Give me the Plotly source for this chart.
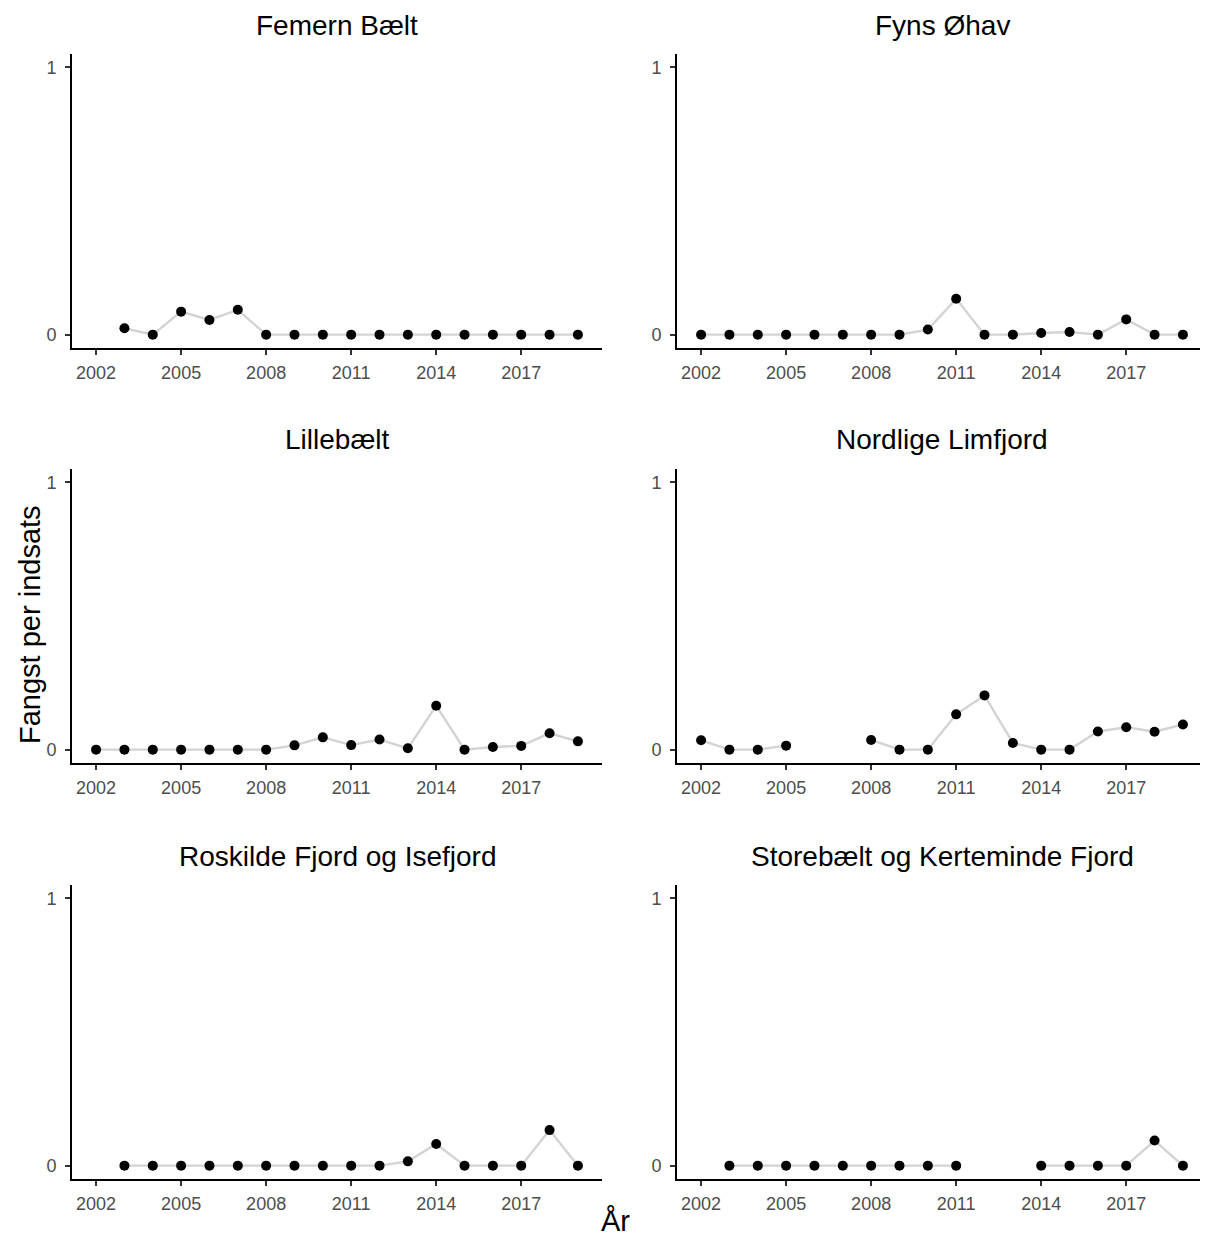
import plotly.graph_objects as go

years = list(range(2002, 2020))
panel_titles = ["Femern Bælt", "Fyns Øhav", "Lillebælt", "Nordlige Limfjord",
                "Roskilde Fjord og Isefjord", "Storebælt og Kerteminde Fjord"]

femern = [None, 0.024, 0.0, 0.086, 0.055, 0.093, 0, 0, 0, 0, 0, 0, 0, 0, 0, 0, 0, 0]
fyns = [0, 0, 0, 0, 0, 0, 0, 0, 0.019, 0.134, 0, 0, 0.006, 0.010, 0, 0.057, 0, 0]
lillebaelt = [0, 0, 0, 0, 0, 0, 0, 0.016, 0.046, 0.017, 0.038, 0.005, 0.164, 0, 0.010, 0.014, 0.061, 0.031]
limfjord = [0.035, 0, 0, 0.015, None, None, 0.036, 0, 0, 0.132, 0.203, 0.025, 0, 0, 0.068, 0.084, 0.067, 0.094]
roskilde = [None, 0, 0, 0, 0, 0, 0, 0, 0, 0, 0, 0.016, 0.081, 0, 0, 0, 0.133, 0]
storebaelt = [None, 0, 0, 0, 0, 0, 0, 0, 0, 0, None, None, 0, 0, 0, 0, 0.094, 0]

series = [femern, fyns, lillebaelt, limfjord, roskilde, storebaelt]
x_ticks = [2002, 2005, 2008, 2011, 2014, 2017]
y_ticks = [0, 1]

# page body has an 8px margin, so the figure is 8px smaller and drawn at (8, 8)
W, H = 1200, 1228
col_px = [(64, 594), (669, 1199)]
row_px = [(46, 340), (461, 755), (877, 1171)]

FONT = "Liberation Sans, Arial, sans-serif"
fig = go.Figure()
annotations = []
layout = {}
for i, vals in enumerate(series):
    r, c = divmod(i, 2)
    n = i + 1
    xa = "x" if n == 1 else f"x{n}"
    ya = "y" if n == 1 else f"y{n}"
    fig.add_trace(go.Scatter(
        x=years, y=vals, mode="lines", xaxis=xa, yaxis=ya,
        line=dict(color="#D3D3D3", width=2.4), connectgaps=False,
        hoverinfo="skip", showlegend=False))
    fig.add_trace(go.Scatter(
        x=years, y=vals, mode="markers", xaxis=xa, yaxis=ya,
        marker=dict(color="black", size=10), showlegend=False))
    x0, x1 = col_px[c]
    y0, y1 = row_px[r]
    axcommon = dict(showline=True, linecolor="black", linewidth=2,
                    ticks="outside", ticklen=5, tickcolor="#333333", tickwidth=1.5,
                    showgrid=False, zeroline=False,
                    tickfont=dict(family=FONT, size=18, color="#4D4D4D"))
    layout["xaxis" if n == 1 else f"xaxis{n}"] = dict(
        domain=[x0 / W, x1 / W], anchor=ya, range=[2001.15, 2019.85],
        tickvals=x_ticks, ticktext=[str(t) for t in x_ticks],
        ticklabelstandoff=2, **axcommon)
    layout["yaxis" if n == 1 else f"yaxis{n}"] = dict(
        domain=[1 - y1 / H, 1 - y0 / H], anchor=xa, range=[-0.05, 1.05],
        tickvals=y_ticks, ticktext=[str(t) for t in y_ticks],
        ticklabelstandoff=5, **axcommon)
    annotations.append(dict(
        text=panel_titles[i], x=(x0 + x1) / 2 / W, y=1 - (y0 - 29) / H,
        xref="paper", yref="paper", showarrow=False, xanchor="center", yanchor="middle",
        font=dict(family=FONT, size=28, color="black")))

annotations.append(dict(text="Fangst per indsats", x=22 / W, y=1 - 617 / H,
                        xref="paper", yref="paper", showarrow=False, textangle=-90,
                        xanchor="center", yanchor="middle",
                        font=dict(family=FONT, size=29, color="black")))
annotations.append(dict(text="År", x=607 / W, y=1 - 1213 / H,
                        xref="paper", yref="paper", showarrow=False,
                        xanchor="center", yanchor="middle",
                        font=dict(family=FONT, size=29, color="black")))

fig.update_layout(width=W, height=H, margin=dict(l=0, r=0, t=0, b=0),
                  paper_bgcolor="white", plot_bgcolor="white",
                  annotations=annotations, **layout)
fig.write_html("out.html")
